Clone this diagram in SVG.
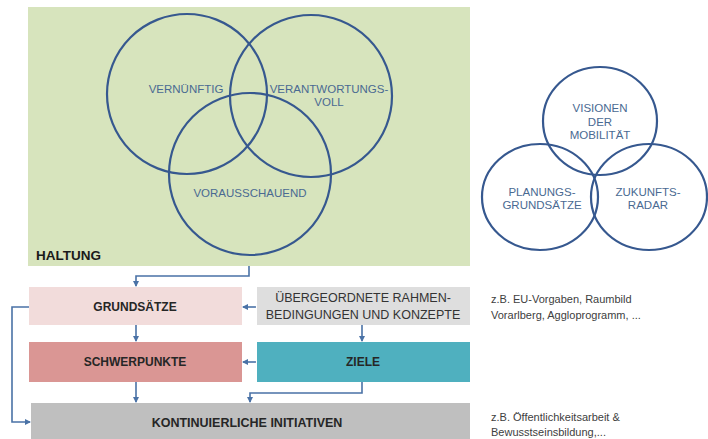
<svg xmlns="http://www.w3.org/2000/svg" width="708" height="439" viewBox="0 0 708 439">
<defs>
<marker id="ah" markerWidth="6" markerHeight="6" refX="5" refY="3" orient="auto" markerUnits="userSpaceOnUse">
<path d="M0,0 L6,3 L0,6 z" fill="#4a72a6"/>
</marker>
<style>
.c{fill:none;stroke:#36588f;stroke-width:2.2}
.ct{font-family:"Liberation Sans",Arial,sans-serif;font-size:11.5px;fill:#4a6a92;text-anchor:middle}
.rt{font-family:"Liberation Sans",Arial,sans-serif;font-size:11.5px;fill:#4a6a92;text-anchor:middle}
.bt{font-family:"Liberation Sans",Arial,sans-serif;font-size:12px;font-weight:bold;fill:#262626;text-anchor:middle}
.nt{font-family:"Liberation Sans",Arial,sans-serif;font-size:12.5px;fill:#333333;text-anchor:middle}
.st{font-family:"Liberation Sans",Arial,sans-serif;font-size:11px;fill:#404040}
.ln{fill:none;stroke:#4a72a6;stroke-width:1.6;marker-end:url(#ah)}
</style>
</defs>
<rect width="708" height="439" fill="#ffffff"/>
<g id="haltung">
<rect x="28" y="7" width="442" height="259" fill="#d7e4bd"/>
<text x="36" y="260" style="font-family:'Liberation Sans',Arial,sans-serif;font-size:13.5px;font-weight:bold;fill:#1a1a1a">HALTUNG</text>
</g>
<g id="vernuenftig">
<circle class="c" cx="187" cy="94" r="80"/>
<text class="ct" x="186" y="93">VERNÜNFTIG</text>
</g>
<g id="verantwortungsvoll">
<circle class="c" cx="311" cy="96" r="81"/>
<text class="ct" x="329" y="93">VERANTWORTUNGS-</text>
<text class="ct" x="329" y="106">VOLL</text>
</g>
<g id="vorausschauend">
<circle class="c" cx="250" cy="174" r="81"/>
<text class="ct" x="250" y="197">VORAUSSCHAUEND</text>
</g>
<g id="visionen">
<ellipse class="c" cx="600" cy="121" rx="57" ry="54"/>
<text class="rt" x="600" y="112">VISIONEN</text>
<text class="rt" x="600" y="126">DER</text>
<text class="rt" x="600" y="139">MOBILITÄT</text>
</g>
<g id="planungsgrundsaetze">
<ellipse class="c" cx="540" cy="197" rx="58" ry="53"/>
<text class="rt" x="542" y="196">PLANUNGS-</text>
<text class="rt" x="542" y="209">GRUNDSÄTZE</text>
</g>
<g id="zukunftsradar">
<ellipse class="c" cx="649" cy="197" rx="58" ry="53"/>
<text class="rt" x="648" y="196">ZUKUNFTS-</text>
<text class="rt" x="648" y="209">RADAR</text>
</g>
<g id="grundsaetze">
<rect x="29" y="287" width="213" height="38" fill="#f2dcdb"/>
<text class="bt" x="135" y="311">GRUNDSÄTZE</text>
</g>
<g id="uebergeordnete">
<rect x="257" y="287" width="213" height="38" fill="#dedede"/>
<text class="nt" x="363" y="302">ÜBERGEORDNETE RAHMEN-</text>
<text class="nt" x="363" y="319">BEDINGUNGEN UND KONZEPTE</text>
</g>
<g id="schwerpunkte">
<rect x="29" y="342" width="213" height="40" fill="#da9694"/>
<text class="bt" x="135" y="366">SCHWERPUNKTE</text>
</g>
<g id="ziele">
<rect x="257" y="342" width="213" height="40" fill="#4fb0bf"/>
<text class="bt" x="363" y="366">ZIELE</text>
</g>
<g id="kontinuierliche">
<rect x="31" y="403" width="439" height="36" fill="#bfbfbf"/>
<text class="bt" x="247" y="427" style="font-size:12.5px">KONTINUIERLICHE INITIATIVEN</text>
</g>
<g id="notes">
<text class="st" x="491" y="303">z.B. EU-Vorgaben, Raumbild</text>
<text class="st" x="491" y="319">Vorarlberg, Aggloprogramm, ...</text>
<text class="st" x="491" y="421">z.B. Öffentlichkeitsarbeit  &amp;</text>
<text class="st" x="491" y="436">Bewusstseinsbildung,...</text>
</g>
<g id="connectors">
<path class="ln" d="M249,266 V276 H136 V286"/>
<path class="ln" d="M256,307 H243"/>
<path class="ln" d="M362,325 V341"/>
<path class="ln" d="M256,362 H243"/>
<path class="ln" d="M136,325 V341"/>
<path class="ln" d="M136,382 V402"/>
<path class="ln" d="M362,382 V393 H250 V402"/>
<path class="ln" d="M29,307 H12 V422 H30"/>
</g>
</svg>
